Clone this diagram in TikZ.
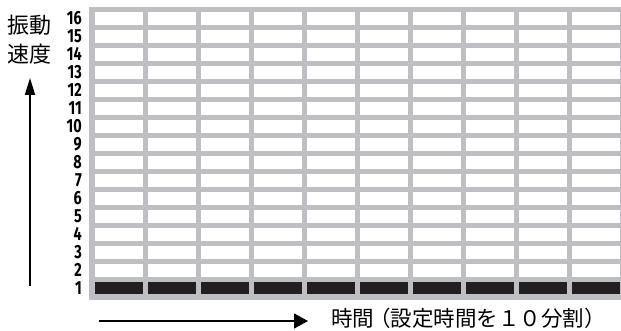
\documentclass[tikz,border=0pt]{standalone}
\usepackage{fontspec}
\usetikzlibrary{arrows.meta}
\newfontfamily\jpfont{Noto Sans CJK JP}
\newfontfamily\numfont{Fira Sans}[FakeStretch=0.76]
\definecolor{gridgray}{RGB}{190,191,195}
\definecolor{cellblack}{RGB}{35,31,32}
\tikzset{
  rowlabel/.style={anchor=east, inner sep=0pt, text height=12pt, text depth=0pt,
    font=\numfont\bfseries\fontsize{19}{19}\selectfont},
  axisarrow/.style={line width=1.8pt},
}
\begin{document}
\begin{tikzpicture}[x=1pt,y=-1pt]
\useasboundingbox (0,0) rectangle (621,331);
% grid
\fill [gridgray] (89,7) rectangle (626,300);
\foreach \i in {2,...,16} {
  \foreach \j in {0,...,9} {
    \fill [white] (95+53*\j,{12+18*(16-\i)}) rectangle ++(48,13);
  }
}
\foreach \j in {0,...,9} {
  \fill [cellblack] (95+53*\j,282) rectangle ++(48,12);
}
% row numbers
\foreach \i in {1,...,16} {
  \node [rowlabel] (n\i) at (82,{12+18*(16-\i)+6.5}) {\i};
}
% axes
\coordinate (V0) at (30,286);
\coordinate (V1) at (30,78);
\coordinate (H0) at (99,321);
\coordinate (H1) at (308,321);
\draw [axisarrow, -{Triangle[width=10pt,length=17pt]}] (V0) -- (V1);
\draw [axisarrow, -{Triangle[width=15pt,length=14pt]}] (H0) -- (H1);
\node [align=center, inner sep=0pt, font=\jpfont\fontsize{22}{29}\selectfont] (ylabel) at (29.5,40) {振動\\速度};
\node [anchor=west, inner sep=0pt, font=\jpfont\fontsize{21.5}{21.5}\selectfont] (xlabel) at (331,318) {時間\kern-5pt（設定時間を１０分割）};
\end{tikzpicture}
\end{document}
